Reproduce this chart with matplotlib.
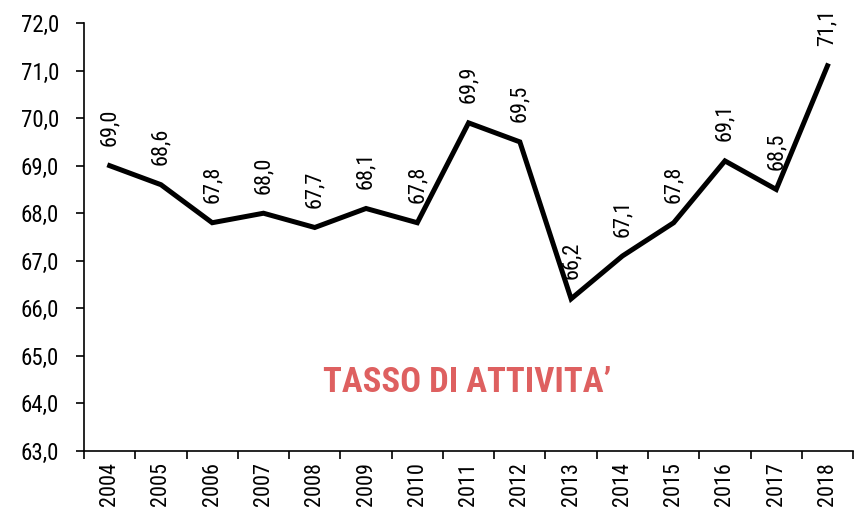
import matplotlib
matplotlib.use('Agg')
import matplotlib.pyplot as plt
from matplotlib.ticker import FixedLocator, FuncFormatter

years = ['2004', '2005', '2006', '2007', '2008', '2009', '2010', '2011',
         '2012', '2013', '2014', '2015', '2016', '2017', '2018']
tasso = [69.0, 68.6, 67.8, 68.0, 67.7, 68.1, 67.8, 69.9,
         69.5, 66.2, 67.1, 67.8, 69.1, 68.5, 71.1]

plt.rcParams['font.family'] = ['Roboto Condensed', 'Liberation Sans', 'DejaVu Sans']

fig = plt.figure(figsize=(8.6, 5.11), dpi=100)
ax = fig.add_axes([0.0977, 0.1174, 0.8943, 0.8376])

x = list(range(len(years)))
ax.plot(x, tasso, color='black', linewidth=3.6, solid_joinstyle='miter')

# data labels, rotated, above each point
for xi, v in zip(x, tasso):
    ax.annotate(f'{v:.1f}'.replace('.', ','), (xi, v), xytext=(0, 14),
                textcoords='offset points', rotation=90,
                ha='center', va='bottom', fontsize=16)

ax.set_xlim(-0.5, len(years) - 0.5)
ax.set_ylim(63, 72)
ax.set_yticks([63 + i for i in range(10)])
ax.yaxis.set_major_formatter(FuncFormatter(lambda v, p: f'{v:.1f}'.replace('.', ',')))

# tick marks between categories, labels at the centres
ax.xaxis.set_major_locator(FixedLocator([i - 0.5 for i in range(len(years) + 1)]))
ax.xaxis.set_major_formatter(FuncFormatter(lambda v, p: ''))
ax.set_xticks(x, minor=True)
ax.set_xticklabels(years, minor=True, rotation=90, fontsize=16)
ax.tick_params(axis='x', which='major', direction='out', length=6, width=1.2)
ax.tick_params(axis='x', which='minor', length=0, pad=8)
ax.tick_params(axis='y', direction='out', length=6, width=1.2, labelsize=16.5, pad=12)

for s in ['top', 'right']:
    ax.spines[s].set_visible(False)
for s in ['left', 'bottom']:
    ax.spines[s].set_linewidth(1.2)

ax.text(0.498, 0.159, 'TASSO DI ATTIVITA\u2019', transform=ax.transAxes,
        ha='center', va='center', fontsize=25, fontweight='bold', color='#DE6060')

fig.savefig('out.png', dpi=100)
